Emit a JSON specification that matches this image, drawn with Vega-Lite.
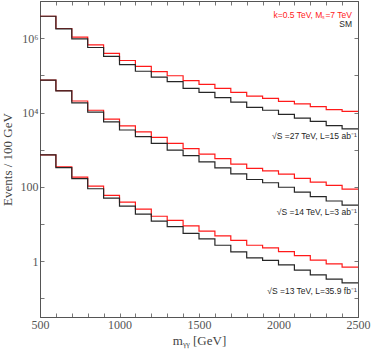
{
  "$schema": "https://vega.github.io/schema/vega-lite/v6.json",
  "width": 318,
  "height": 316,
  "autosize": {"type": "none"},
  "padding": {"left": 40, "top": 1, "right": 14, "bottom": 37},
  "background": "white",
  "config": {
    "view": {"stroke": "#555", "strokeWidth": 1},
    "axis": {
      "domainColor": "#555",
      "tickColor": "#777",
      "labelColor": "#555",
      "titleColor": "#444",
      "labelFont": "Liberation Serif",
      "titleFont": "Liberation Serif",
      "labelFontSize": 12,
      "titleFontSize": 13,
      "titleFontWeight": "normal",
      "grid": false,
      "tickSize": -4
    }
  },
  "datasets": {
    "hist": [
      {"e": "27", "k": "BSM", "m": 500, "v": 3890000},
      {"e": "27", "k": "BSM", "m": 600, "v": 1820000},
      {"e": "27", "k": "BSM", "m": 700, "v": 1070000},
      {"e": "27", "k": "BSM", "m": 800, "v": 661000},
      {"e": "27", "k": "BSM", "m": 900, "v": 389000},
      {"e": "27", "k": "BSM", "m": 1000, "v": 251000},
      {"e": "27", "k": "BSM", "m": 1100, "v": 174000},
      {"e": "27", "k": "BSM", "m": 1200, "v": 126000},
      {"e": "27", "k": "BSM", "m": 1300, "v": 97700},
      {"e": "27", "k": "BSM", "m": 1400, "v": 72400},
      {"e": "27", "k": "BSM", "m": 1500, "v": 57500},
      {"e": "27", "k": "BSM", "m": 1600, "v": 44700},
      {"e": "27", "k": "BSM", "m": 1700, "v": 34700},
      {"e": "27", "k": "BSM", "m": 1800, "v": 27500},
      {"e": "27", "k": "BSM", "m": 1900, "v": 24000},
      {"e": "27", "k": "BSM", "m": 2000, "v": 20000},
      {"e": "27", "k": "BSM", "m": 2100, "v": 17000},
      {"e": "27", "k": "BSM", "m": 2200, "v": 14500},
      {"e": "27", "k": "BSM", "m": 2300, "v": 12000},
      {"e": "27", "k": "BSM", "m": 2400, "v": 10700},
      {"e": "27", "k": "BSM", "m": 2500, "v": 10700},
      {"e": "27", "k": "SM", "m": 500, "v": 3890000},
      {"e": "27", "k": "SM", "m": 600, "v": 1780000},
      {"e": "27", "k": "SM", "m": 700, "v": 955000},
      {"e": "27", "k": "SM", "m": 800, "v": 562000},
      {"e": "27", "k": "SM", "m": 900, "v": 324000},
      {"e": "27", "k": "SM", "m": 1000, "v": 195000},
      {"e": "27", "k": "SM", "m": 1100, "v": 129000},
      {"e": "27", "k": "SM", "m": 1200, "v": 89100},
      {"e": "27", "k": "SM", "m": 1300, "v": 67600},
      {"e": "27", "k": "SM", "m": 1400, "v": 44700},
      {"e": "27", "k": "SM", "m": 1500, "v": 34700},
      {"e": "27", "k": "SM", "m": 1600, "v": 25100},
      {"e": "27", "k": "SM", "m": 1700, "v": 19100},
      {"e": "27", "k": "SM", "m": 1800, "v": 13800},
      {"e": "27", "k": "SM", "m": 1900, "v": 11500},
      {"e": "27", "k": "SM", "m": 2000, "v": 8910},
      {"e": "27", "k": "SM", "m": 2100, "v": 7080},
      {"e": "27", "k": "SM", "m": 2200, "v": 5750},
      {"e": "27", "k": "SM", "m": 2300, "v": 4470},
      {"e": "27", "k": "SM", "m": 2400, "v": 3630},
      {"e": "27", "k": "SM", "m": 2500, "v": 3630},
      {"e": "14", "k": "BSM", "m": 500, "v": 74100},
      {"e": "14", "k": "BSM", "m": 600, "v": 38900},
      {"e": "14", "k": "BSM", "m": 700, "v": 20400},
      {"e": "14", "k": "BSM", "m": 800, "v": 11500},
      {"e": "14", "k": "BSM", "m": 900, "v": 6610},
      {"e": "14", "k": "BSM", "m": 1000, "v": 4370},
      {"e": "14", "k": "BSM", "m": 1100, "v": 3020},
      {"e": "14", "k": "BSM", "m": 1200, "v": 2140},
      {"e": "14", "k": "BSM", "m": 1300, "v": 1480},
      {"e": "14", "k": "BSM", "m": 1400, "v": 1070},
      {"e": "14", "k": "BSM", "m": 1500, "v": 759},
      {"e": "14", "k": "BSM", "m": 1600, "v": 575},
      {"e": "14", "k": "BSM", "m": 1700, "v": 407},
      {"e": "14", "k": "BSM", "m": 1800, "v": 316},
      {"e": "14", "k": "BSM", "m": 1900, "v": 269},
      {"e": "14", "k": "BSM", "m": 2000, "v": 219},
      {"e": "14", "k": "BSM", "m": 2100, "v": 170},
      {"e": "14", "k": "BSM", "m": 2200, "v": 135},
      {"e": "14", "k": "BSM", "m": 2300, "v": 110},
      {"e": "14", "k": "BSM", "m": 2400, "v": 87.1},
      {"e": "14", "k": "BSM", "m": 2500, "v": 87.1},
      {"e": "14", "k": "SM", "m": 500, "v": 74100},
      {"e": "14", "k": "SM", "m": 600, "v": 38000},
      {"e": "14", "k": "SM", "m": 700, "v": 18200},
      {"e": "14", "k": "SM", "m": 800, "v": 10200},
      {"e": "14", "k": "SM", "m": 900, "v": 5620},
      {"e": "14", "k": "SM", "m": 1000, "v": 3390},
      {"e": "14", "k": "SM", "m": 1100, "v": 2240},
      {"e": "14", "k": "SM", "m": 1200, "v": 1480},
      {"e": "14", "k": "SM", "m": 1300, "v": 977},
      {"e": "14", "k": "SM", "m": 1400, "v": 692},
      {"e": "14", "k": "SM", "m": 1500, "v": 468},
      {"e": "14", "k": "SM", "m": 1600, "v": 324},
      {"e": "14", "k": "SM", "m": 1700, "v": 224},
      {"e": "14", "k": "SM", "m": 1800, "v": 158},
      {"e": "14", "k": "SM", "m": 1900, "v": 129},
      {"e": "14", "k": "SM", "m": 2000, "v": 97.7},
      {"e": "14", "k": "SM", "m": 2100, "v": 72.4},
      {"e": "14", "k": "SM", "m": 2200, "v": 55.0},
      {"e": "14", "k": "SM", "m": 2300, "v": 41.7},
      {"e": "14", "k": "SM", "m": 2400, "v": 32.4},
      {"e": "14", "k": "SM", "m": 2500, "v": 32.4},
      {"e": "13", "k": "BSM", "m": 500, "v": 724},
      {"e": "13", "k": "BSM", "m": 600, "v": 347},
      {"e": "13", "k": "BSM", "m": 700, "v": 182},
      {"e": "13", "k": "BSM", "m": 800, "v": 105},
      {"e": "13", "k": "BSM", "m": 900, "v": 58.9},
      {"e": "13", "k": "BSM", "m": 1000, "v": 38.9},
      {"e": "13", "k": "BSM", "m": 1100, "v": 25.1},
      {"e": "13", "k": "BSM", "m": 1200, "v": 16.2},
      {"e": "13", "k": "BSM", "m": 1300, "v": 12.6},
      {"e": "13", "k": "BSM", "m": 1400, "v": 8.91},
      {"e": "13", "k": "BSM", "m": 1500, "v": 6.46},
      {"e": "13", "k": "BSM", "m": 1600, "v": 4.79},
      {"e": "13", "k": "BSM", "m": 1700, "v": 3.63},
      {"e": "13", "k": "BSM", "m": 1800, "v": 2.69},
      {"e": "13", "k": "BSM", "m": 1900, "v": 2.29},
      {"e": "13", "k": "BSM", "m": 2000, "v": 1.82},
      {"e": "13", "k": "BSM", "m": 2100, "v": 1.41},
      {"e": "13", "k": "BSM", "m": 2200, "v": 1.07},
      {"e": "13", "k": "BSM", "m": 2300, "v": 0.851},
      {"e": "13", "k": "BSM", "m": 2400, "v": 0.692},
      {"e": "13", "k": "BSM", "m": 2500, "v": 0.692},
      {"e": "13", "k": "SM", "m": 500, "v": 724},
      {"e": "13", "k": "SM", "m": 600, "v": 331},
      {"e": "13", "k": "SM", "m": 700, "v": 166},
      {"e": "13", "k": "SM", "m": 800, "v": 89.1},
      {"e": "13", "k": "SM", "m": 900, "v": 50.1},
      {"e": "13", "k": "SM", "m": 1000, "v": 30.2},
      {"e": "13", "k": "SM", "m": 1100, "v": 18.6},
      {"e": "13", "k": "SM", "m": 1200, "v": 12.0},
      {"e": "13", "k": "SM", "m": 1300, "v": 8.51},
      {"e": "13", "k": "SM", "m": 1400, "v": 5.62},
      {"e": "13", "k": "SM", "m": 1500, "v": 3.98},
      {"e": "13", "k": "SM", "m": 1600, "v": 2.69},
      {"e": "13", "k": "SM", "m": 1700, "v": 1.78},
      {"e": "13", "k": "SM", "m": 1800, "v": 1.23},
      {"e": "13", "k": "SM", "m": 1900, "v": 1.05},
      {"e": "13", "k": "SM", "m": 2000, "v": 0.794},
      {"e": "13", "k": "SM", "m": 2100, "v": 0.575},
      {"e": "13", "k": "SM", "m": 2200, "v": 0.427},
      {"e": "13", "k": "SM", "m": 2300, "v": 0.331},
      {"e": "13", "k": "SM", "m": 2400, "v": 0.263},
      {"e": "13", "k": "SM", "m": 2500, "v": 0.263}
    ],
    "notes": [
      {"m": 2462, "v": 4300000, "k": "BSM", "t": "k=0.5 TeV, Mₛ=7 TeV"},
      {"m": 2462, "v": 2460000, "k": "SM", "t": "SM"},
      {"m": 2492, "v": 2290, "k": "SM", "t": "√S =27 TeV, L=15 ab⁻¹"},
      {"m": 2492, "v": 21.6, "k": "SM", "t": "√S =14 TeV, L=3 ab⁻¹"},
      {"m": 2492, "v": 0.155, "k": "SM", "t": "√S =13 TeV, L=35.9 fb⁻¹"}
    ]
  },
  "layer": [
    {
      "data": {"name": "hist"},
      "mark": {"type": "line", "interpolate": "step-after", "strokeWidth": 1.2, "clip": true},
      "encoding": {
        "x": {
          "field": "m", "type": "quantitative",
          "scale": {"domain": [500, 2500], "nice": false, "zero": false},
          "axis": {
            "orient": "bottom",
            "title": "mᵧᵧ [GeV]",
            "values": [500, 600, 700, 800, 900, 1000, 1100, 1200, 1300, 1400, 1500, 1600, 1700, 1800, 1900, 2000, 2100, 2200, 2300, 2400, 2500],
            "labelExpr": "datum.value % 500 === 0 ? format(datum.value, 'd') : ''",
            "labelPadding": 6,
            "labelFlush": false,
            "labelOverlap": false,
            "titlePadding": 4
          }
        },
        "y": {
          "field": "v", "type": "quantitative",
          "scale": {"type": "log", "domain": [0.0316, 10000000], "nice": false},
          "axis": {
            "orient": "left",
            "title": "Events / 100 GeV",
            "values": [0.1, 1, 10, 100, 1000, 10000, 100000, 1000000],
            "labelExpr": "datum.value === 1 ? '1' : datum.value === 100 ? '100' : datum.value === 10000 ? '10⁴' : datum.value === 1000000 ? '10⁶' : ''",
            "labelPadding": 6,
            "labelOverlap": false,
            "labelFlush": false,
            "titlePadding": 6
          }
        },
        "color": {
          "field": "k", "type": "nominal",
          "scale": {"domain": ["BSM", "SM"], "range": ["#ff1a1a", "#262626"]},
          "legend": null
        },
        "detail": {"field": "e"},
        "order": {"field": "m"}
      }
    },
    {
      "data": {"name": "hist"},
      "mark": {"type": "point", "opacity": 0},
      "encoding": {
        "x": {
          "field": "m", "type": "quantitative",
          "axis": {
            "orient": "top", "title": null, "labels": false,
            "values": [500, 600, 700, 800, 900, 1000, 1100, 1200, 1300, 1400, 1500, 1600, 1700, 1800, 1900, 2000, 2100, 2200, 2300, 2400, 2500]
          }
        },
        "y": {
          "field": "v", "type": "quantitative",
          "axis": {
            "orient": "right", "title": null, "labels": false,
            "values": [0.1, 1, 10, 100, 1000, 10000, 100000, 1000000]
          }
        }
      }
    },
    {
      "data": {"name": "notes"},
      "mark": {"type": "text", "align": "right", "baseline": "middle", "font": "Liberation Sans", "fontSize": 8.5},
      "encoding": {
        "x": {"field": "m", "type": "quantitative", "axis": null},
        "y": {"field": "v", "type": "quantitative", "axis": null},
        "text": {"field": "t"},
        "color": {"field": "k", "type": "nominal", "legend": null}
      }
    }
  ],
  "resolve": {"axis": {"x": "independent", "y": "independent"}}
}
